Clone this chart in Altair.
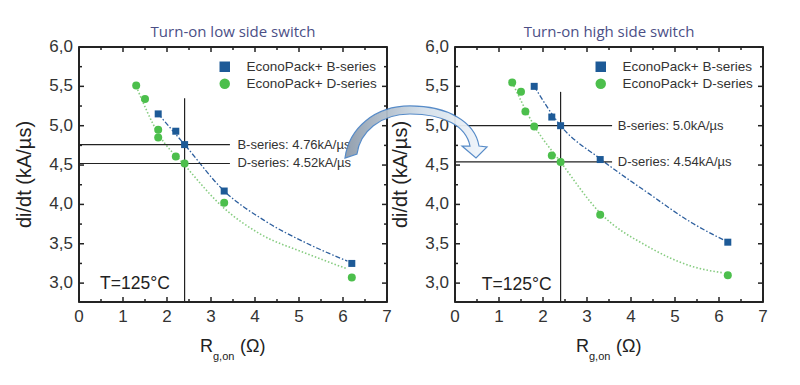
import altair as alt
import pandas as pd

FONT = "Liberation Sans"
TITLE_FONT = "Open Sans"

# ---------------- data ----------------
series_names = ["EconoPack+ B-series", "EconoPack+ D-series"]
series_colors = ["#1d5a97", "#4cbf4c"]
series_shapes = ["square", "circle"]

panel_titles = ["Turn-on low side switch", "Turn-on high side switch"]
y_title = "di/dt (kA/µs)"
x_title_parts = ["R", "g,on", "(Ω)"]
temp_label = "T=125°C"

x_major = [0, 1, 2, 3, 4, 5, 6, 7]
x_tick_labels = ["0", "1", "2", "3", "4", "5", "6", "7"]
x_minor = [0.5, 1.5, 2.5, 3.5, 4.5, 5.5, 6.5]
y_major = [3.0, 3.5, 4.0, 4.5, 5.0, 5.5, 6.0]
y_tick_labels = ["3,0", "3,5", "4,0", "4,5", "5,0", "5,5", "6,0"]
y_minor = [3.25, 3.75, 4.25, 4.75, 5.25, 5.75]
x_domain = [0, 7]
y_domain = [2.76, 6.0]

# left panel (low side)
l_b_x = [1.8, 2.2, 2.4, 3.3, 6.2]
l_b_y = [5.15, 4.93, 4.76, 4.17, 3.25]
l_d_x = [1.3, 1.5, 1.8, 1.8, 2.2, 2.4, 3.3, 6.2]
l_d_y = [5.51, 5.34, 4.95, 4.85, 4.61, 4.52, 4.02, 3.07]
l_bfit_x = [1.8, 2.4, 3.3, 4.2, 5.2, 6.1]
l_bfit_y = [5.15, 4.76, 4.17, 3.80, 3.50, 3.28]
l_dfit_x = [1.3, 1.8, 2.4, 3.3, 4.1, 5.2, 6.1]
l_dfit_y = [5.50, 4.90, 4.50, 3.95, 3.63, 3.37, 3.18]
l_mark_x = 2.4
l_mark_top = 5.35
l_levels = [4.76, 4.52]
l_level_end = 3.43
l_label_x = 3.6
l_labels = ["B-series: 4.76kA/µs", "D-series: 4.52kA/µs"]
l_temp = (0.48, 2.99)

# right panel (high side)
r_b_x = [1.8, 2.2, 2.4, 3.3, 6.2]
r_b_y = [5.50, 5.11, 5.00, 4.57, 3.52]
r_d_x = [1.3, 1.5, 1.6, 1.8, 2.2, 2.4, 3.3, 6.2]
r_d_y = [5.55, 5.43, 5.18, 4.99, 4.62, 4.54, 3.87, 3.10]
r_bfit_x = [1.8, 2.4, 3.3, 4.4, 5.4, 6.1]
r_bfit_y = [5.50, 5.00, 4.58, 4.14, 3.76, 3.55]
r_dfit_x = [1.3, 1.8, 2.4, 3.3, 4.4, 5.4, 6.1]
r_dfit_y = [5.55, 5.00, 4.54, 3.89, 3.46, 3.21, 3.13]
r_mark_x = 2.4
r_mark_top = 5.43
r_levels = [5.00, 4.54]
r_level_end = 3.57
r_label_x = 3.7
r_labels = ["B-series: 5.0kA/µs", "D-series: 4.54kA/µs"]
r_temp = (0.61, 2.97)

# curved arrow outline (unit symbol path)
ARROW_PATH = (
    "M -0.947 0.347 C -0.893 -0.053 -0.547 -0.347 -0.08 -0.347 "
    "C 0.427 -0.347 0.787 -0.133 0.84 0.187 "
    "L 0.947 0.2 L 0.8 0.347 L 0.613 0.187 L 0.72 0.187 "
    "C 0.667 -0.08 0.373 -0.24 -0.08 -0.24 "
    "C -0.48 -0.24 -0.747 0 -0.787 0.293 Z"
)

W, H = 308, 255
INK = "#222222"
MAJOR_PX, MINOR_PX = 5, 3

xs = alt.Scale(domain=x_domain, nice=False, zero=False)
ys = alt.Scale(domain=y_domain, nice=False, zero=False)

# data units per pixel (for inward tick lengths)
KX = (x_domain[1] - x_domain[0]) / W
KY = (y_domain[1] - y_domain[0]) / H


def frame_tables():
    x0, x1 = x_domain
    y0, y1 = y_domain
    vx, va, vb = [x0, x1], [y0, y0], [y1, y1]
    for vals, px in ((x_major, MAJOR_PX), (x_minor, MINOR_PX)):
        for v in vals:
            vx += [v, v]
            va += [y0, y1]
            vb += [y0 + px * KY, y1 - px * KY]
    hy, ha, hb = [y0, y1], [x0, x0], [x1, x1]
    for vals, px in ((y_major, MAJOR_PX), (y_minor, MINOR_PX)):
        for v in vals:
            hy += [v, v]
            ha += [x0, x1]
            hb += [x0 + px * KX, x1 - px * KX]
    return (pd.DataFrame({"x": vx, "ya": va, "yb": vb}),
            pd.DataFrame({"y": hy, "xa": ha, "xb": hb}))


def legend():
    return alt.Legend(orient="none", legendX=139, legendY=13, title=None, padding=0,
                      labelFont=FONT, labelFontSize=13.5, labelColor="#333",
                      symbolSize=110, labelOffset=15, rowPadding=2, symbolStrokeWidth=0)


def panel(title, bx, by, dx, dy, bfx, bfy, dfx, dfy, mx, mtop, levels, lend, lx, labels,
          temp, arrow=False):
    df_bfit = pd.DataFrame({"x": bfx, "y": bfy})
    df_dfit = pd.DataFrame({"x": dfx, "y": dfy})
    df_b = pd.DataFrame({"x": bx, "y": by, "series": series_names[0]})
    df_d = pd.DataFrame({"x": dx, "y": dy, "series": series_names[1]})
    df_v = pd.DataFrame({"x": [mx], "y0": [y_domain[0]], "y1": [mtop]})
    df_h = pd.DataFrame({"x0": [x_domain[0]] * len(levels), "x1": [lend] * len(levels), "y": levels})
    df_lab = pd.DataFrame({"x": [lx] * len(levels), "y": levels, "t": labels})
    df_temp = pd.DataFrame({"x": [temp[0]], "y": [temp[1]], "t": [temp_label]})
    df_xl = pd.DataFrame({"v": x_major, "t": x_tick_labels})
    df_yl = pd.DataFrame({"v": y_major, "t": y_tick_labels})
    df_box = pd.DataFrame({"xa": [x_domain[0]], "xb": [x_domain[1]],
                           "ya": [y_domain[0]], "yb": [y_domain[1]]})
    one = pd.DataFrame({"t": [title]})
    ytl = pd.DataFrame({"t": [y_title]})
    fv, fh = frame_tables()

    NOAX_X = dict(scale=xs, axis=None)
    NOAX_Y = dict(scale=ys, axis=None)

    box = alt.Chart(df_box).mark_rect(fillOpacity=0, stroke=INK, strokeWidth=1.5).encode(
        x=alt.X("xa:Q", **NOAX_X), x2="xb:Q", y=alt.Y("ya:Q", **NOAX_Y), y2="yb:Q")
    frame_v = alt.Chart(fv).mark_rule(color=INK, strokeWidth=1.5).encode(
        x=alt.X("x:Q", **NOAX_X), y=alt.Y("ya:Q", **NOAX_Y), y2="yb:Q")
    frame_h = alt.Chart(fh).mark_rule(color=INK, strokeWidth=1.5).encode(
        y=alt.Y("y:Q", **NOAX_Y), x=alt.X("xa:Q", **NOAX_X), x2="xb:Q")

    xlab = alt.Chart(df_xl).mark_text(
        align="center", baseline="middle", font=FONT, fontSize=17, color="#333"
    ).encode(x=alt.X("v:Q", **NOAX_X), y=alt.value(H + 15), text="t:N")
    ylab = alt.Chart(df_yl).mark_text(
        align="right", baseline="middle", font=FONT, fontSize=17, color="#333"
    ).encode(y=alt.Y("v:Q", **NOAX_Y), x=alt.value(-6), text="t:N")
    ytitle = alt.Chart(ytl).mark_text(
        align="center", baseline="middle", angle=270, font=FONT, fontSize=20, color=INK
    ).encode(x=alt.value(-54), y=alt.value(H / 2), text="t:N")

    ttl = alt.Chart(one).mark_text(
        align="center", baseline="alphabetic", font=TITLE_FONT, fontSize=15, color="#4b4f86"
    ).encode(x=alt.value(W / 2), y=alt.value(-10), text="t:N")

    fit_b = alt.Chart(df_bfit).mark_line(
        color="#2d5f9e", strokeDash=[5, 2, 1.5, 2], strokeWidth=1.3, interpolate="monotone"
    ).encode(x=alt.X("x:Q", **NOAX_X), y=alt.Y("y:Q", **NOAX_Y))
    fit_d = alt.Chart(df_dfit).mark_line(
        color="#86cc80", strokeDash=[1.5, 2], strokeWidth=1.6, interpolate="monotone"
    ).encode(x=alt.X("x:Q", **NOAX_X), y=alt.Y("y:Q", **NOAX_Y))
    color = alt.Color("series:N", scale=alt.Scale(domain=series_names, range=series_colors),
                      legend=legend())
    shape = alt.Shape("series:N", scale=alt.Scale(domain=series_names, range=series_shapes),
                      legend=legend())
    pts_b = alt.Chart(df_b).mark_point(filled=True, opacity=1, size=49).encode(
        x=alt.X("x:Q", **NOAX_X), y=alt.Y("y:Q", **NOAX_Y), color=color, shape=shape)
    pts_d = alt.Chart(df_d).mark_point(filled=True, opacity=1, size=64).encode(
        x=alt.X("x:Q", **NOAX_X), y=alt.Y("y:Q", **NOAX_Y), color=color, shape=shape)
    vrule = alt.Chart(df_v).mark_rule(color=INK, strokeWidth=1.2).encode(
        x=alt.X("x:Q", **NOAX_X), y=alt.Y("y0:Q", **NOAX_Y), y2="y1:Q")
    hrule = alt.Chart(df_h).mark_rule(color=INK, strokeWidth=1.2).encode(
        x=alt.X("x0:Q", **NOAX_X), x2="x1:Q", y=alt.Y("y:Q", **NOAX_Y))
    lab = alt.Chart(df_lab).mark_text(
        align="left", baseline="middle", font=FONT, fontSize=13, color="#333"
    ).encode(x=alt.X("x:Q", **NOAX_X), y=alt.Y("y:Q", **NOAX_Y), text="t:N")
    tmp = alt.Chart(df_temp).mark_text(
        align="left", baseline="middle", font=FONT, fontSize=17.5, color=INK
    ).encode(x=alt.X("x:Q", **NOAX_X), y=alt.Y("y:Q", **NOAX_Y), text="t:N")

    xt = pd.DataFrame({"t": x_title_parts})
    xt_r = alt.Chart(xt).transform_filter(alt.datum.t == x_title_parts[0]).mark_text(
        align="left", baseline="alphabetic", font=FONT, fontSize=18, color=INK
    ).encode(x=alt.value(121), y=alt.value(H + 50), text="t:N")
    xt_s = alt.Chart(xt).transform_filter(alt.datum.t == x_title_parts[1]).mark_text(
        align="left", baseline="alphabetic", font=FONT, fontSize=11, color=INK
    ).encode(x=alt.value(134), y=alt.value(H + 58), text="t:N")
    xt_o = alt.Chart(xt).transform_filter(alt.datum.t == x_title_parts[2]).mark_text(
        align="left", baseline="alphabetic", font=FONT, fontSize=18, color=INK
    ).encode(x=alt.value(161), y=alt.value(H + 50), text="t:N")

    layers = [box, frame_v, frame_h, fit_b, fit_d, vrule, hrule, xlab, ylab, ytitle, ttl,
              pts_b, pts_d, lab, tmp, xt_r, xt_s, xt_o]
    if arrow:
        grad = alt.LinearGradient(
            gradient="linear",
            stops=[alt.GradientStop(color="#8d9bab", offset=0),
                   alt.GradientStop(color="#d3dfea", offset=0.55),
                   alt.GradientStop(color="#f2f7fc", offset=1)],
            x1=0, x2=1, y1=0, y2=0)
        arr = alt.Chart(pd.DataFrame({"a": [0]})).mark_point(
            shape=ARROW_PATH, size=22500, filled=True, fill=grad, stroke="#4f86c6",
            strokeWidth=1.2, opacity=0.95
        ).encode(x=alt.value(-39), y=alt.value(85))
        layers.append(arr)

    return alt.layer(*layers).properties(
        width=W, height=H, view=alt.ViewBackground(stroke=INK, strokeWidth=1.5))


left = panel(panel_titles[0], l_b_x, l_b_y, l_d_x, l_d_y, l_bfit_x, l_bfit_y, l_dfit_x, l_dfit_y,
             l_mark_x, l_mark_top, l_levels, l_level_end, l_label_x, l_labels, l_temp)
right = panel(panel_titles[1], r_b_x, r_b_y, r_d_x, r_d_y, r_bfit_x, r_bfit_y, r_dfit_x, r_dfit_y,
              r_mark_x, r_mark_top, r_levels, r_level_end, r_label_x, r_labels, r_temp, arrow=True)

chart = alt.hconcat(left, right, spacing=68, bounds="flush").resolve_scale(
    color="independent", shape="independent"
).properties(
    padding={"left": 6, "top": 16, "right": 5, "bottom": 5}
).configure_view(stroke=INK, strokeWidth=1.3)

chart.save("out.html", embed_options={"renderer": "svg", "actions": False})
